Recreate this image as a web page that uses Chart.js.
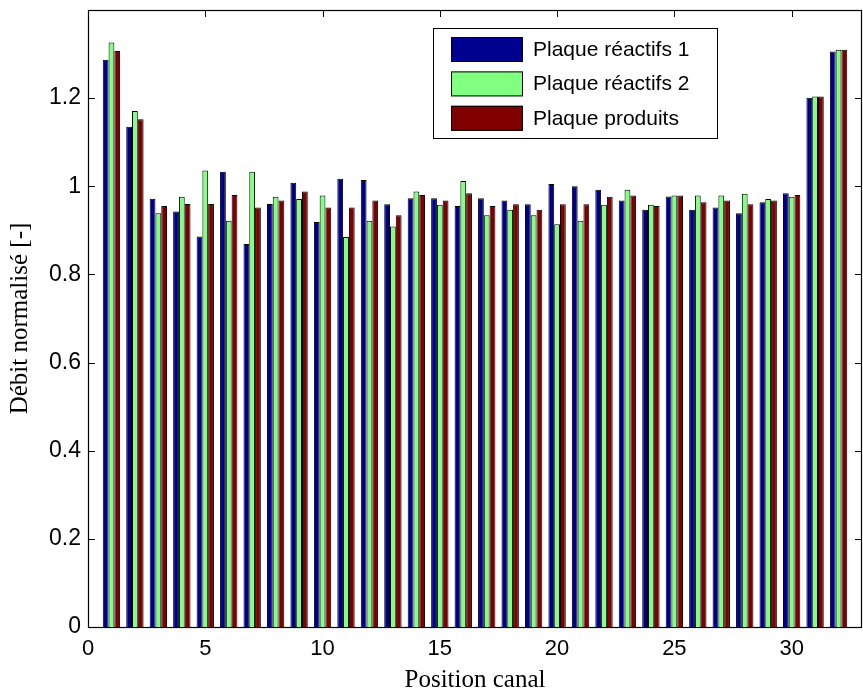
<!DOCTYPE html>
<html>
<head>
<meta charset="utf-8">
<script src="https://cdn.jsdelivr.net/npm/chart.js@4"></script>
<style>
  html, body { margin: 0; padding: 0; background: #fff; }
  #wrap { width: 863px; height: 693px; }
</style>
</head>
<body>
<div id="wrap"><canvas id="debitChart" width="863" height="693"></canvas></div>
<script>
// Data
const positions = [1, 2, 3, 4, 5, 6, 7, 8, 9, 10, 11, 12, 13, 14, 15, 16,
    17, 18, 19, 20, 21, 22, 23, 24, 25, 26, 27, 28, 29, 30, 31, 32];
const reactifs1 = [1.287, 1.135, 0.972, 0.943, 0.886, 1.033, 0.869, 0.960, 1.008, 0.919, 1.017, 1.014, 0.959, 0.973, 0.973, 0.955,
    0.973, 0.968, 0.959, 1.005, 1.000, 0.992, 0.968, 0.947, 0.977, 0.947, 0.952, 0.939, 0.964, 0.984, 1.201, 1.306];
const reactifs2 = [1.326, 1.171, 0.939, 0.976, 1.036, 0.922, 1.033, 0.976, 0.971, 0.979, 0.885, 0.922, 0.909, 0.988, 0.958, 1.012,
    0.934, 0.947, 0.934, 0.914, 0.922, 0.958, 0.992, 0.958, 0.979, 0.979, 0.979, 0.983, 0.971, 0.976, 1.204, 1.310];
const produits = [1.307, 1.152, 0.955, 0.960, 0.960, 0.980, 0.952, 0.968, 0.988, 0.952, 0.952, 0.968, 0.934, 0.980, 0.968, 0.984,
    0.955, 0.959, 0.947, 0.959, 0.959, 0.976, 0.979, 0.955, 0.979, 0.964, 0.968, 0.959, 0.968, 0.980, 1.204, 1.310];
const seriesLabels = ['Plaque réactifs 1', 'Plaque réactifs 2', 'Plaque produits'];
const seriesColors = ['#00008f', '#80ff80', '#800000'];
const xTicks = [0, 5, 10, 15, 20, 25, 30];
const yTicks = [0, 0.2, 0.4, 0.6, 0.8, 1, 1.2];

const sansFont = "'Liberation Sans', Arial, sans-serif";
const serifFont = "'Liberation Serif', 'Times New Roman', serif";

function toPoints(values) {
    return positions.map((p, i) => ({ x: p, y: values[i] }));
}

// MATLAB style box with inward ticks, drawn under the bars
const boxPlugin = {
    id: 'boxPlugin',
    beforeDatasetsDraw(chart) {
        const { ctx, chartArea: a, scales } = chart;
        const len = 7;
        ctx.save();
        ctx.strokeStyle = '#000';
        ctx.lineWidth = 1;
        ctx.beginPath();
        xTicks.forEach(v => {
            const px = Math.round(scales.x.getPixelForValue(v)) + 0.5;
            ctx.moveTo(px, a.bottom); ctx.lineTo(px, a.bottom - len);
            ctx.moveTo(px, a.top); ctx.lineTo(px, a.top + len);
        });
        yTicks.forEach(v => {
            const py = Math.round(scales.y.getPixelForValue(v)) + 0.5;
            ctx.moveTo(a.left, py); ctx.lineTo(a.left + len, py);
            ctx.moveTo(a.right, py); ctx.lineTo(a.right - len, py);
        });
        ctx.stroke();
        ctx.lineWidth = 1.2;
        ctx.strokeRect(a.left + 0.5, a.top + 0.5, a.right - a.left - 1, a.bottom - a.top);
        ctx.restore();
    }
};

// legend box in the upper right of the axes
const legendPlugin = {
    id: 'legendPlugin',
    afterDraw(chart) {
        const { ctx, chartArea: a } = chart;
        const x0 = a.left + 345, y0 = a.top + 18;
        const w = 284, h = 110;
        ctx.save();
        ctx.fillStyle = '#fff';
        ctx.fillRect(x0, y0, w, h);
        ctx.strokeStyle = '#000';
        ctx.lineWidth = 1;
        ctx.strokeRect(x0 + 0.5, y0 + 0.5, w, h);
        ctx.font = '21px ' + sansFont;
        ctx.textBaseline = 'middle';
        chart.data.datasets.forEach((ds, i) => {
            const sy = y0 + 9 + i * 34.4;
            ctx.fillStyle = ds.backgroundColor;
            ctx.fillRect(x0 + 18, sy, 72, 25);
            ctx.strokeStyle = '#000';
            ctx.strokeRect(x0 + 18.5, sy + 0.5, 71, 24);
            ctx.fillStyle = '#000';
            ctx.fillText(ds.label, x0 + 100, sy + 13);
        });
        ctx.restore();
    }
};

const chart = new Chart(document.getElementById('debitChart'), {
    type: 'bar',
    data: {
        datasets: [reactifs1, reactifs2, produits].map((vals, i) => ({
            label: seriesLabels[i],
            data: toPoints(vals),
            backgroundColor: seriesColors[i],
            borderColor: '#000',
            borderWidth: 1,
            categoryPercentage: 0.74,
            barPercentage: 1
        }))
    },
    options: {
        responsive: false,
        animation: false,
        layout: { padding: { left: 0, right: 1, top: 10, bottom: 0 } },
        plugins: {
            legend: { display: false },
            tooltip: { enabled: false }
        },
        scales: {
            x: {
                type: 'linear',
                min: 0,
                max: 33,
                offset: false,
                grid: { display: false, drawTicks: false },
                border: { display: false },
                afterBuildTicks: scale => { scale.ticks = xTicks.map(v => ({ value: v })); },
                afterFit: scale => { scale.height = 66; scale.paddingRight = 0; },
                ticks: {
                    color: '#000',
                    padding: 9,
                    maxRotation: 0,
                    font: { family: sansFont, size: 22 },
                    callback: v => String(v)
                },
                title: {
                    display: true,
                    text: 'Position canal',
                    color: '#000',
                    padding: { top: 0, bottom: 0 },
                    font: { family: serifFont, size: 25, lineHeight: 1 }
                }
            },
            y: {
                min: 0,
                max: 1.4,
                grid: { display: false, drawTicks: false },
                border: { display: false },
                afterBuildTicks: scale => { scale.ticks = yTicks.map(v => ({ value: v })); },
                afterFit: scale => {
                    scale.width = 88;
                    scale.paddingTop = 0;
                    scale.paddingBottom = 0;
                },
                ticks: {
                    color: '#000',
                    padding: 7,
                    font: { family: sansFont, size: 23 },
                    callback: v => String(Math.round(v * 10) / 10)
                },
                title: {
                    display: true,
                    text: 'Débit normalisé [-]',
                    color: '#000',
                    padding: { top: 8, bottom: 0 },
                    font: { family: serifFont, size: 25, lineHeight: 1 }
                }
            }
        }
    },
    plugins: [boxPlugin, legendPlugin]
});
console.log('chart drawn', chart.chartArea);
</script>
</body>
</html>
